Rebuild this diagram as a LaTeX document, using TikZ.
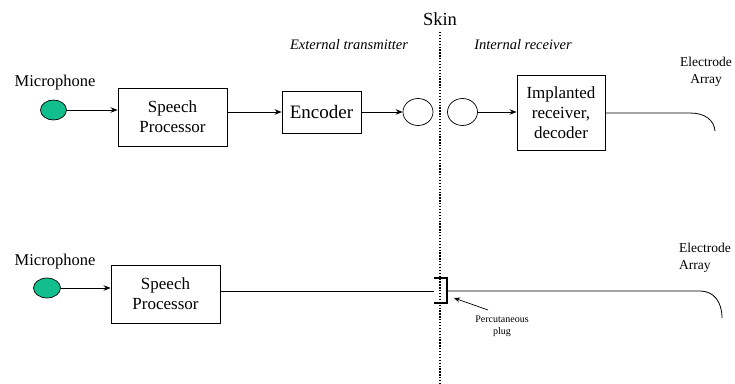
\documentclass[tikz,border=0pt]{standalone}
\usepackage{fontspec}
\setmainfont{Liberation Serif}
\newfontfamily\timesfam{Liberation Serif}
\usetikzlibrary{arrows.meta,shapes.geometric}
\begin{document}
\begin{tikzpicture}[x=1pt,y=-1pt,
  txt/.style={inner sep=0pt, align=center},
  blk/.style={draw, line width=0.9pt, minimum width=#1, align=center, inner sep=0pt},
  mic/.style={ellipse, draw, line width=0.7pt, fill=micgreen, minimum width=26pt, minimum height=20pt, inner sep=0pt},
  coil/.style={ellipse, draw, line width=0.7pt, minimum width=30pt, minimum height=27pt, inner sep=0pt},
  flow/.style={line width=0.8pt, -{Stealth[length=7pt,width=5.5pt]}},
  wire/.style={line width=0.8pt},
  big/.style={font=\timesfam\fontsize{16.5}{18}\selectfont},
  boxfont/.style={font=\timesfam\fontsize{17}{20}\selectfont},
  italab/.style={font=\timesfam\fontsize{14.5}{17}\selectfont\itshape},
  small/.style={font=\timesfam\fontsize{13.5}{17}\selectfont},
]
\definecolor{micgreen}{RGB}{18,190,140}
\useasboundingbox (0,0) rectangle (735,383);

% skin boundary
\node[txt, font=\timesfam\fontsize{18.5}{20}\selectfont] (skin) at (440,19) {Skin};
\coordinate (skintop) at (440,32);
\coordinate (skinbot) at (440,383);
\draw[line width=1.3pt, dash pattern=on 1.3pt off 1.6pt] (skintop) -- (skinbot);

\node[txt, italab] (ext) at (349,45) {External transmitter};
\node[txt, italab] (int) at (523,45) {Internal receiver};

% upper chain: transcutaneous link
\node[txt, big] (mic1lab) at (55,83) {Microphone};
\node[mic] (mic1) at (53.5,110) {};
\node[blk=109pt, minimum height=58pt, boxfont] (sp1) at (172.5,117) {Speech\\Processor};
\node[blk=79pt, minimum height=42pt, font=\timesfam\fontsize{19}{22}\selectfont] (enc) at (321.5,112) {Encoder};
\node[coil] (coilA) at (418,112) {};
\node[coil] (coilB) at (462.5,112) {};
\node[blk=88pt, minimum height=75pt, boxfont] (impl) at (561,112.5) {Implanted\\receiver,\\decoder};
\node[txt, small] (ea1) at (706,72) {Electrode\\Array};

\draw[flow] (mic1) -- (sp1.west |- mic1);
\draw[flow] (sp1.east |- enc) -- (enc);
\draw[flow] (enc) -- (coilA);
\draw[flow] (coilB) -- (impl.west |- coilB);
\coordinate (bend1) at (690,113);
\coordinate (tip1) at (715,131);
\draw[wire] (impl.east |- bend1) -- (bend1) .. controls (705,113) and (714,120) .. (tip1);

% lower chain: percutaneous plug
\node[txt, big] (mic2lab) at (55,262) {Microphone};
\node[mic, minimum width=27pt] (mic2) at (47,288) {};
\node[blk=109pt, minimum height=58pt, boxfont] (sp2) at (165.5,294) {Speech\\Processor};
\node[txt, small, align=left] (ea2) at (705,258) {Electrode\\Array};

\draw[flow] (mic2) -- (sp2.west |- mic2);
\coordinate (plugL) at (434,291);
\coordinate (plugR) at (447,291);
\draw[wire] (sp2.east |- plugL) -- (plugL);
\draw[line width=2pt] (434,278) -- (447,278) -- (447,303) -- (434,303);
\coordinate (bend2) at (700,291);
\coordinate (tip2) at (722,318);
\draw[wire] (plugR) -- (bend2) .. controls (714,291) and (722,302) .. (tip2);

\node[txt, font=\timesfam\fontsize{10}{12}\selectfont] (pluglab) at (502,326) {Percutaneous\\plug};
\coordinate (plugtail) at (488,310);
\coordinate (plughead) at (454,298);
\draw[line width=0.7pt, -{Stealth[length=6pt,width=5pt]}] (plugtail) -- (plughead);
\end{tikzpicture}
\end{document}
